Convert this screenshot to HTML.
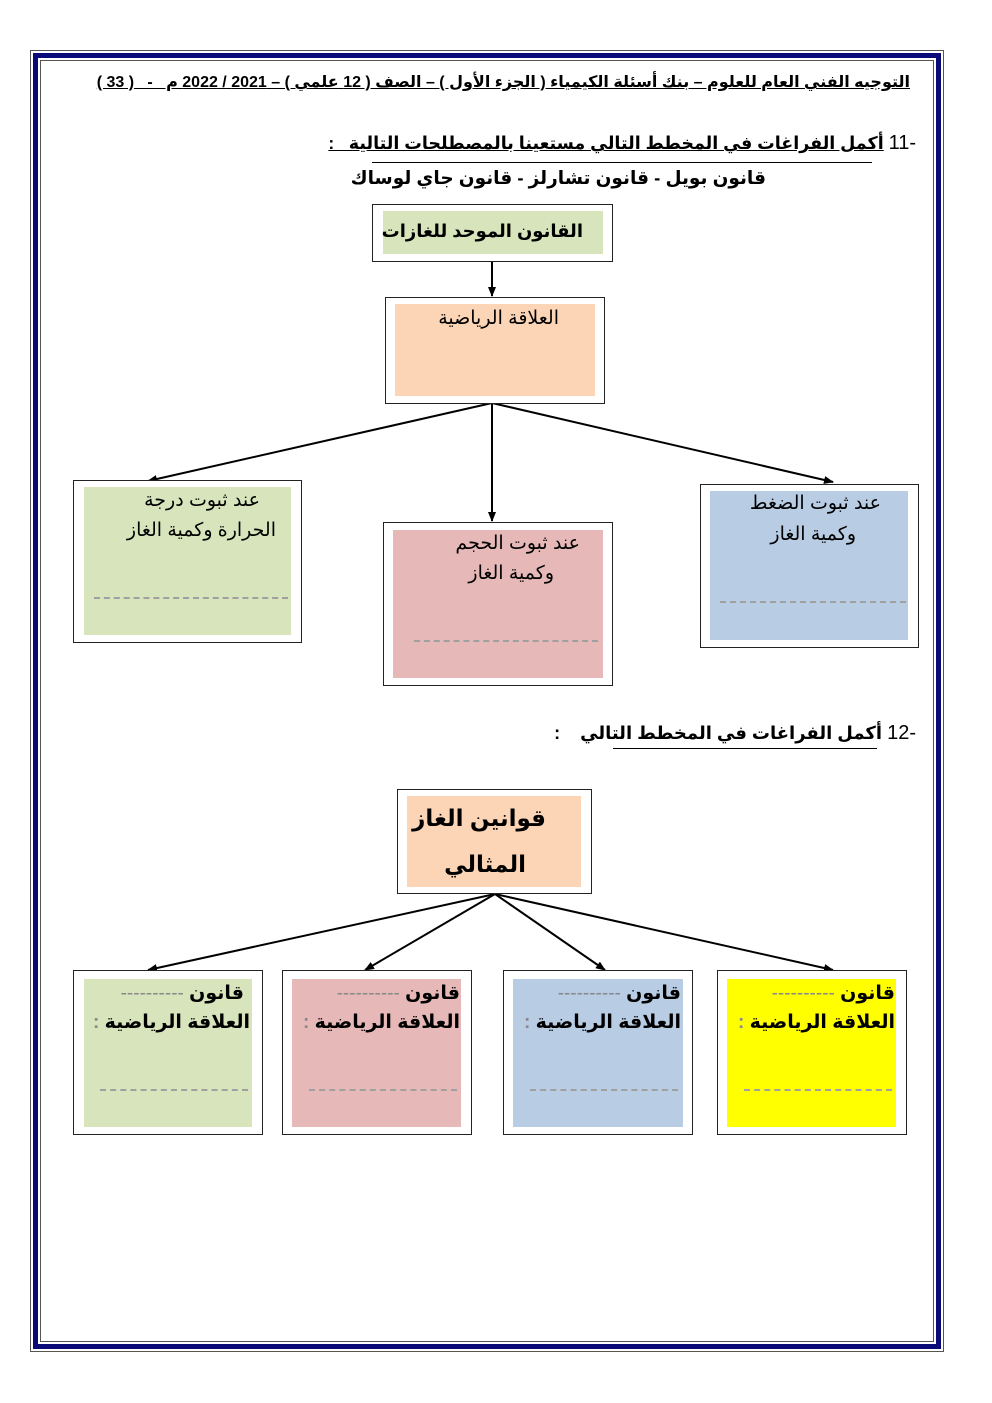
<!DOCTYPE html>
<html><head><meta charset="utf-8"><style>
body{margin:0;width:992px;height:1403px;background:#fff;position:relative;overflow:hidden;font-family:"Liberation Sans","Noto Sans CJK SC","DejaVu Sans",sans-serif;}
.a{position:absolute;}
.t{position:absolute;direction:rtl;white-space:nowrap;color:#000;font-weight:bold;}
.ob{position:absolute;border:1.5px solid #222;box-sizing:border-box;background:#fff;}
.dash{position:absolute;border-top:2px dashed #a0a0a0;height:0;}
</style></head><body>
<div class="a" style="left:30px;top:50px;width:914px;height:1302px;border:1px solid #555;box-sizing:border-box"></div>
<div class="a" style="left:33px;top:53px;width:908px;height:1296px;border:5px solid #0a0a78;box-sizing:border-box"></div>
<div class="a" style="left:40px;top:60px;width:894px;height:1282px;border:1px solid #555;box-sizing:border-box"></div>

<div class="t" style="right:82px;top:72px;font-size:16px;text-decoration:underline;">التوجيه الفني العام للعلوم – بنك أسئلة الكيمياء ( الجزء الأول ) – الصف ( 12 علمي ) – 2021 / 2022 م &nbsp; - &nbsp; ( 33 )</div>

<div class="t" style="right:76px;top:132px;font-size:17.5px;"><span style="font-weight:normal;font-size:20px">-11</span> <span style="text-decoration:underline">أكمل الفراغات في المخطط التالي مستعينا بالمصطلحات التالية &nbsp; :</span></div>
<div class="a" style="left:372px;top:162px;width:500px;border-top:1px solid #000"></div>
<div class="t" style="right:226px;top:167px;font-size:18.5px;">قانون بويل - قانون تشارلز - قانون جاي لوساك</div>

<svg class="a" style="left:0;top:0" width="992" height="1403">
<defs><marker id="m" markerWidth="10" markerHeight="8" refX="9" refY="4" orient="auto" markerUnits="userSpaceOnUse"><path d="M0,0 L10,4 L0,8 z" fill="#000"/></marker></defs>
<g stroke="#000" stroke-width="2" fill="none" marker-end="url(#m)">
<line x1="492" y1="262" x2="492" y2="296"/>
<line x1="492" y1="403" x2="148" y2="481"/>
<line x1="492" y1="403" x2="492" y2="521"/>
<line x1="492" y1="403" x2="833" y2="482"/>
<line x1="495" y1="894" x2="148" y2="970"/>
<line x1="495" y1="894" x2="365" y2="970"/>
<line x1="495" y1="894" x2="605" y2="970"/>
<line x1="495" y1="894" x2="833" y2="970"/>
</g></svg>

<div class="ob" style="left:372px;top:204px;width:241px;height:58px"></div>
<div class="a" style="left:383px;top:211px;width:220px;height:43px;background:#d8e4bc"></div>
<div class="t" style="right:409px;top:221px;font-size:18px;">القانون الموحد للغازات</div>

<div class="ob" style="left:385px;top:297px;width:220px;height:107px"></div>
<div class="a" style="left:395px;top:304px;width:200px;height:92px;background:#fbd5b5"></div>
<div class="t" style="right:433px;top:307px;font-size:19px;font-weight:normal">العلاقة الرياضية</div>

<div class="ob" style="left:73px;top:480px;width:229px;height:163px"></div>
<div class="a" style="left:84px;top:487px;width:207px;height:148px;background:#d8e4bc"></div>
<div class="t" style="right:732px;top:489px;font-size:19px;font-weight:normal">عند ثبوت درجة</div>
<div class="t" style="right:716px;top:519px;font-size:19px;font-weight:normal">الحرارة وكمية الغاز</div>
<div class="dash" style="left:94px;top:597px;width:194px"></div>

<div class="ob" style="left:383px;top:522px;width:230px;height:164px"></div>
<div class="a" style="left:393px;top:530px;width:210px;height:148px;background:#e6b9b8"></div>
<div class="t" style="right:412px;top:532px;font-size:19px;font-weight:normal">عند ثبوت الحجم</div>
<div class="t" style="right:438px;top:562px;font-size:19px;font-weight:normal">وكمية الغاز</div>
<div class="dash" style="left:414px;top:640px;width:184px"></div>

<div class="ob" style="left:700px;top:484px;width:219px;height:164px"></div>
<div class="a" style="left:710px;top:491px;width:198px;height:149px;background:#b8cce4"></div>
<div class="t" style="right:111px;top:492px;font-size:19px;font-weight:normal">عند ثبوت الضغط</div>
<div class="t" style="right:136px;top:523px;font-size:19px;font-weight:normal">وكمية الغاز</div>
<div class="dash" style="left:720px;top:601px;width:186px"></div>

<div class="t" style="right:76px;top:722px;font-size:18px;"><span style="font-weight:normal;font-size:20px">-12</span> <span>أكمل الفراغات في المخطط التالي &nbsp;&nbsp; :</span></div>
<div class="a" style="left:613px;top:748px;width:264px;border-top:1px solid #000"></div>

<div class="ob" style="left:397px;top:789px;width:195px;height:105px"></div>
<div class="a" style="left:407px;top:796px;width:174px;height:91px;background:#fbd5b5"></div>
<div class="t" style="right:446px;top:805px;font-size:23px;">قوانين الغاز</div>
<div class="t" style="right:466px;top:851px;font-size:23px;">المثالي</div>

<div class="ob" style="left:73px;top:970px;width:190px;height:165px"></div>
<div class="a" style="left:84px;top:979px;width:168px;height:148px;background:#d8e4bc"></div>
<div class="ob" style="left:282px;top:970px;width:190px;height:165px"></div>
<div class="a" style="left:292px;top:979px;width:169px;height:148px;background:#e6b9b8"></div>
<div class="ob" style="left:503px;top:970px;width:190px;height:165px"></div>
<div class="a" style="left:513px;top:979px;width:170px;height:148px;background:#b8cce4"></div>
<div class="ob" style="left:717px;top:970px;width:190px;height:165px"></div>
<div class="a" style="left:727px;top:979px;width:169px;height:148px;background:#ffff00"></div>

<div class="t" style="right:748px;top:982px;font-size:19px;">قانون <span style="color:#888;font-weight:normal">----------</span></div>
<div class="t" style="right:742px;top:1011px;font-size:19px;">العلاقة الرياضية <span style="color:#888">:</span></div>
<div class="dash" style="left:100px;top:1089px;width:148px"></div>

<div class="t" style="right:532px;top:982px;font-size:19px;">قانون <span style="color:#888;font-weight:normal">----------</span></div>
<div class="t" style="right:532px;top:1011px;font-size:19px;">العلاقة الرياضية <span style="color:#888">:</span></div>
<div class="dash" style="left:309px;top:1089px;width:148px"></div>

<div class="t" style="right:311px;top:982px;font-size:19px;">قانون <span style="color:#888;font-weight:normal">----------</span></div>
<div class="t" style="right:311px;top:1011px;font-size:19px;">العلاقة الرياضية <span style="color:#888">:</span></div>
<div class="dash" style="left:530px;top:1089px;width:148px"></div>

<div class="t" style="right:97px;top:982px;font-size:19px;">قانون <span style="color:#888;font-weight:normal">----------</span></div>
<div class="t" style="right:97px;top:1011px;font-size:19px;">العلاقة الرياضية <span style="color:#888">:</span></div>
<div class="dash" style="left:744px;top:1089px;width:148px"></div>
</body></html>
